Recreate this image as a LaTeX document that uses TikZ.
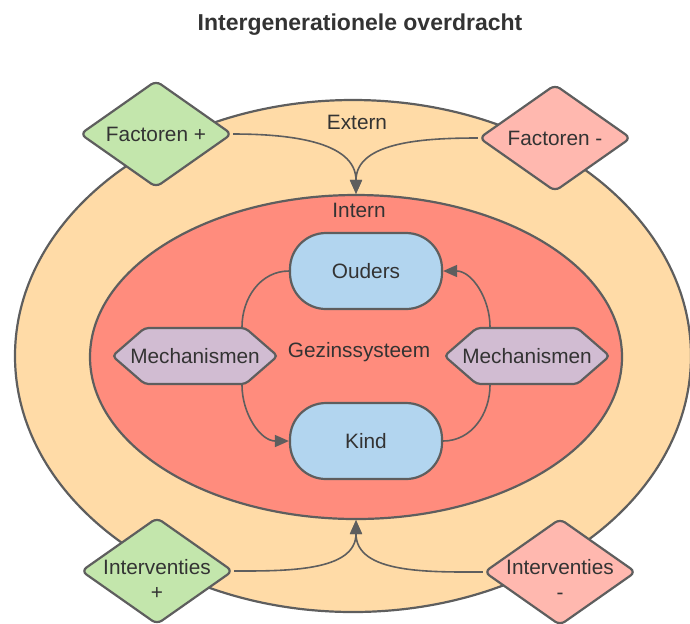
\documentclass[tikz,border=0pt]{standalone}
\usepackage{fontspec}
\setmainfont{Liberation Sans}
\usepackage{xcolor}
\usetikzlibrary{shapes.geometric, shapes.symbols, arrows.meta, positioning, calc}
\definecolor{lineGray}{HTML}{5E5E5E}
\definecolor{textGray}{HTML}{333333}
\definecolor{externFill}{HTML}{FFDBA7}
\definecolor{internFill}{HTML}{FF8C7D}
\definecolor{plusFill}{HTML}{C3E6AC}
\definecolor{minFill}{HTML}{FFB8AF}
\definecolor{personFill}{HTML}{B2D5EF}
\definecolor{mechFill}{HTML}{D1BCD2}
\tikzset{
        zone/.style={ellipse, draw=lineGray, line width=1.1pt, inner sep=0pt},
        factor/.style={diamond, aspect=1.43, draw=lineGray, line width=1.1pt, rounded corners=3pt, minimum width=76pt, minimum height=53.5pt, inner sep=0pt, align=center, font=\fontsize{10.4}{12.5}\selectfont, text=textGray},
        person/.style={rectangle, draw=lineGray, line width=1.1pt, fill=personFill, rounded corners=18pt, minimum width=76pt, minimum height=38pt, font=\fontsize{10.4}{12.5}\selectfont, text=textGray},
        mech/.style={signal, signal to=west and east, signal pointer angle=82, draw=lineGray, line width=1.1pt, fill=mechFill, rounded corners=2pt, minimum width=0pt, minimum height=28pt, inner xsep=-7.2pt, inner ysep=1pt, font=\fontsize{10.4}{12.5}\selectfont, text=textGray},
        label/.style={font=\fontsize{10.4}{12.5}\selectfont, text=textGray, align=center},
        arrow/.style={-{Triangle[length=7pt, width=6pt]}, draw=lineGray, line width=0.8pt},
        link/.style={draw=lineGray, line width=0.8pt},
    }
\begin{document}
\begin{tikzpicture}[x=0.5pt, y=-0.5pt]
        \useasboundingbox (0,0) rectangle (690,623);

        % Title
        \node[font=\bfseries\fontsize{11.5}{14}\selectfont, text=textGray] (title) at (360,25) {Intergenerationele overdracht};

        % Zones
        \node[zone, fill=externFill, minimum width=338pt, minimum height=256pt] (outer) at (353,356) {};
        \node[zone, fill=internFill, minimum width=266pt, minimum height=162pt] (inner) at (356,357) {};
        \node[label] (extern) at (357,122) {Extern};
        \node[label] (intern) at (359,210) {Intern};
        \node[label] (gezin) at (359,352) {Gezinssysteem};

        % Family
        \node[person] (ouders) at (366,271) {Ouders};
        \node[person] (kind) at (366,441) {Kind};
        \node[mech] (mechL) at (195,356) {Mechanismen};
        \node[mech] (mechR) at (527,356) {Mechanismen};

        \draw[link] ([xshift=23.5pt]mechL.north) to[out=90, in=180] (ouders.west);
        \draw[arrow] ([xshift=23.5pt]mechL.south) to[out=-90, in=180] (kind.west);
        \draw[link] (kind.east) to[out=0, in=-90] ([xshift=-18.5pt]mechR.south);
        \draw[arrow] ([xshift=-18.5pt]mechR.north) to[out=90, in=0] (ouders.east);

        % Factors and interventions
        \node[factor, fill=plusFill] (fplus) at (156,134) {Factoren +};
        \node[factor, fill=minFill] (fmin) at (555,138) {Factoren -};
        \node[factor, fill=plusFill] (iplus) at (157,571) {};
        \node[factor, fill=minFill] (imin) at (560,572) {};
        \node[label] (iplusText) at (157,579) {Interventies\\+};
        \node[label] (iminText) at (560,579) {Interventies\\-};

        \draw[arrow] (fplus.east) to[out=0, in=90] (inner.north);
        \draw[arrow] (fmin.west) to[out=180, in=90] (inner.north);
        \draw[arrow] (iplus.east) to[out=0, in=-90] (inner.south);
        \draw[arrow] (imin.west) to[out=180, in=-90] (inner.south);
    \end{tikzpicture}
\end{document}
